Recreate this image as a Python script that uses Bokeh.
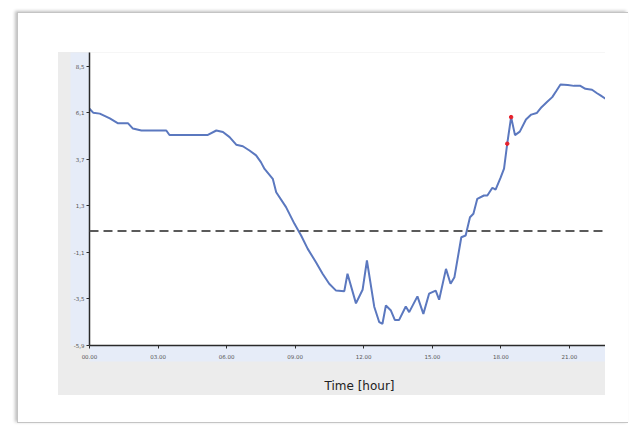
from bokeh.plotting import figure
from bokeh.models import (Range1d, FixedTicker, Span, Title, ColumnDataSource, Spacer,
                          LinearAxis)
from bokeh.layouts import column, row
from bokeh.embed import file_html
from bokeh.resources import INLINE

# ---- data ----
hours = [0.00, 0.16, 0.45, 0.89, 1.25, 1.69, 1.90, 2.27, 3.36, 3.50, 5.18, 5.55, 5.84,
         6.13, 6.42, 6.71, 7.00, 7.29, 7.50, 7.66, 8.02, 8.17, 8.60, 8.97, 9.26, 9.55,
         9.91, 10.20, 10.49, 10.79, 11.15, 11.29, 11.66, 11.95, 12.14, 12.46, 12.68,
         12.82, 12.97, 13.19, 13.36, 13.55, 13.84, 13.99, 14.35, 14.61, 14.86, 15.15,
         15.30, 15.60, 15.80, 15.97, 16.27, 16.46, 16.65, 16.80, 16.97, 17.26, 17.41,
         17.63, 17.77, 17.99, 18.14, 18.28, 18.45, 18.62, 18.83, 19.10, 19.33, 19.57,
         19.78, 20.03, 20.25, 20.44, 20.61, 20.93, 21.20, 21.48, 21.70, 21.99, 22.21,
         22.36, 22.58]
values = [6.30, 6.10, 6.05, 5.80, 5.55, 5.55, 5.28, 5.18, 5.18, 4.95, 4.95, 5.18, 5.10,
          4.84, 4.45, 4.37, 4.15, 3.90, 3.55, 3.20, 2.69, 2.00, 1.23, 0.37, -0.23, -0.92,
          -1.61, -2.20, -2.72, -3.07, -3.10, -2.20, -3.73, -3.03, -1.52, -3.90, -4.70,
          -4.78, -3.84, -4.10, -4.58, -4.58, -3.89, -4.18, -3.37, -4.27, -3.23, -3.07,
          -3.54, -1.95, -2.72, -2.38, -0.32, -0.23, 0.71, 0.89, 1.66, 1.83, 1.83,
          2.23, 2.13, 2.75, 3.21, 4.50, 5.87, 4.94, 5.12, 5.75, 6.00, 6.08,
          6.38, 6.66, 6.90, 7.24, 7.55, 7.52, 7.48, 7.48, 7.33, 7.28, 7.10,
          6.99, 6.82]
marked_hours = [18.28, 18.45]
marked_values = [4.50, 5.87]

x_ticks = [0, 3, 6, 9, 12, 15, 18, 21]
x_tick_labels = ["00.00", "03.00", "06.00", "09.00", "12.00", "15.00", "18.00", "21.00"]
y_ticks = [-5.9, -3.5, -1.1, 1.3, 3.7, 6.1, 8.5]
y_tick_labels = ["-5,9", "-3,5", "-1,1", "1,3", "3,7", "6,1", "8,5"]
reference_level = 0.0
x_title = "Time [hour]"

# ---- figure ----
p = figure(width=535, height=343, output_backend="svg", toolbar_location=None,
           x_range=Range1d(0, 22.58), y_range=Range1d(-5.9, 9.2),
           min_border_left=18, min_border_right=0, min_border_top=0, min_border_bottom=50,
           border_fill_color="#ececec", background_fill_color="white",
           outline_line_color=None)
p.margin = (0, 0, 0, 12)

p.xgrid.visible = False
p.ygrid.visible = False

for ax in (p.xaxis[0], p.yaxis[0]):
    ax.axis_line_color = "#2a2a2a"
    ax.axis_line_width = 1.5
    ax.major_tick_line_color = "#2a2a2a"
    ax.major_tick_out = 3
    ax.major_tick_in = 0
    ax.minor_tick_line_color = None
    ax.major_label_text_font = "DejaVu Sans"
    ax.major_label_text_font_size = "5.5px"
    ax.major_label_text_color = "#555555"
    ax.background_fill_color = "#e6ecf8"

p.xaxis.ticker = FixedTicker(ticks=x_ticks)
p.xaxis.major_label_overrides = {t: l for t, l in zip(x_ticks, x_tick_labels)}
p.xaxis.major_label_standoff = 5
p.yaxis.ticker = FixedTicker(ticks=y_ticks)
p.yaxis.major_label_overrides = {t: l for t, l in zip(y_ticks, y_tick_labels)}
p.yaxis.major_label_standoff = 2

# invisible spacer axis below the tick band, to push the title down
gap_tick = [11]
gap_axis = LinearAxis(ticker=FixedTicker(ticks=gap_tick), axis_line_color=None,
                      major_tick_line_color=None, minor_tick_line_color=None,
                      major_tick_out=14, major_tick_in=0, major_label_standoff=0,
                      major_label_overrides={11: ""}, major_label_text_font_size="1px")
p.add_layout(gap_axis, "below")

p.add_layout(Span(location=reference_level, dimension="width", line_color="#5a5a5a",
                  line_width=2, line_dash="9 5"))

src = ColumnDataSource(data=dict(h=hours, v=values))
p.line("h", "v", source=src, line_color="#5b78bf", line_width=2)
p.scatter(marked_hours, marked_values, size=3.5, color="#e8202a")

p.add_layout(Title(text=x_title, align="left", offset=235, vertical_align="bottom",
                   text_font="DejaVu Sans", text_font_size="12px",
                   text_font_style="normal", text_color="#222222", standoff=2), "below")

panel = column(p, margin=(39, 23, 27, 40), styles={"background-color": "#ececec"})
card = column(panel,
              styles={"background-color": "white",
                      "border": "1px solid #c4c4c4",
                      "border-right": "none",
                      "box-shadow": "-2px -1px 3px rgba(0,0,0,0.25)"})
root = column(Spacer(height=12), row(Spacer(width=17), card))

open("out.html", "w").write(file_html(root, INLINE))
